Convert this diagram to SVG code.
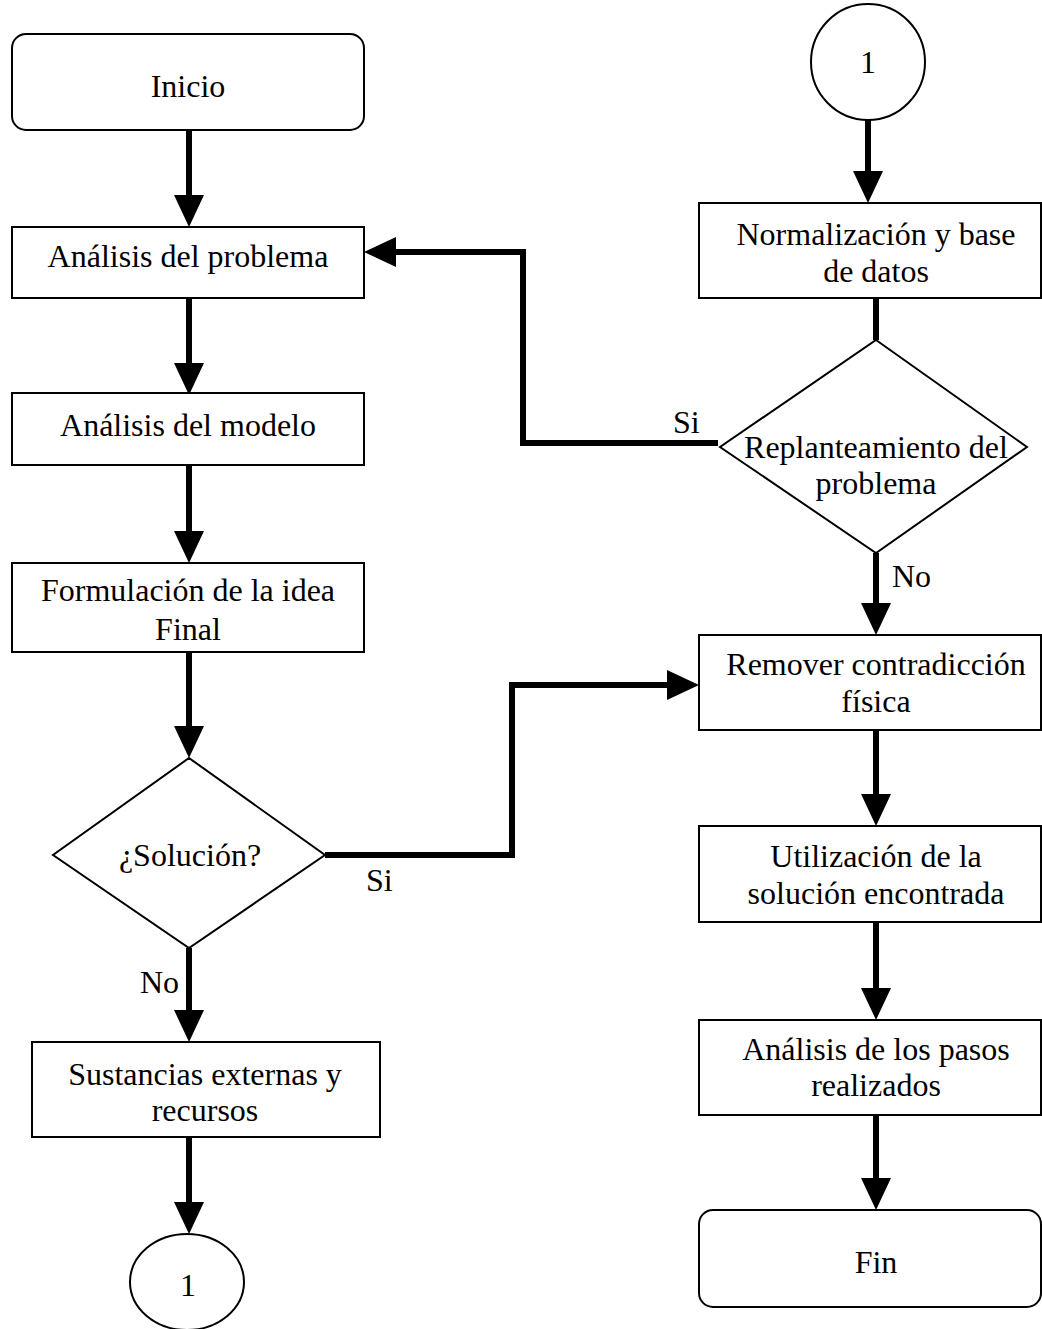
<svg xmlns="http://www.w3.org/2000/svg" width="1042" height="1329" viewBox="0 0 1042 1329">
<style>
.box{fill:#fff;stroke:#000;stroke-width:2}
.t{font-family:'Liberation Serif','Times New Roman','DejaVu Serif',serif;font-size:32px;fill:#000;text-anchor:middle}
.lbl{font-family:'Liberation Serif','Times New Roman','DejaVu Serif',serif;font-size:32px;fill:#000}
.c{fill:none;stroke:#000;stroke-width:6}
</style>
<defs>
<marker id="ah" markerUnits="userSpaceOnUse" markerWidth="32" markerHeight="30" refX="0" refY="15" orient="auto" viewBox="0 0 32 30">
<path d="M0,0 L32,15 L0,30 Z" fill="#000"/>
</marker>
</defs>
<rect width="1042" height="1329" fill="#fff"/>
<g id="connectors">
<path class="c" d="M189,130 V195" marker-end="url(#ah)"/>
<path class="c" d="M189,298 V363" marker-end="url(#ah)"/>
<path class="c" d="M189,465 V531" marker-end="url(#ah)"/>
<path class="c" d="M189,652 V726" marker-end="url(#ah)"/>
<path class="c" d="M189,948 V1010" marker-end="url(#ah)"/>
<path class="c" d="M189,1137 V1202" marker-end="url(#ah)"/>
<path class="c" d="M868,120 V171" marker-end="url(#ah)"/>
<path class="c" d="M876,298 V340"/>
<path class="c" d="M718,443 H523 V252 H396" marker-end="url(#ah)"/>
<path class="c" d="M876,553 V603" marker-end="url(#ah)"/>
<path class="c" d="M325,855 H512 V685 H667" marker-end="url(#ah)"/>
<path class="c" d="M876,730 V794" marker-end="url(#ah)"/>
<path class="c" d="M876,922 V988" marker-end="url(#ah)"/>
<path class="c" d="M876,1115 V1178" marker-end="url(#ah)"/>
<text class="lbl" x="673" y="433">Si</text>
<text class="lbl" x="892" y="587">No</text>
<text class="lbl" x="366" y="891">Si</text>
<text class="lbl" x="140" y="993">No</text>
</g>
<g id="inicio"><rect class="box" x="12" y="34" width="352" height="96" rx="14"/><text class="t" x="188" y="97">Inicio</text></g>
<g id="analisis-problema"><rect class="box" x="12" y="227" width="352" height="71"/><text class="t" x="188" y="267">Análisis del problema</text></g>
<g id="analisis-modelo"><rect class="box" x="12" y="393" width="352" height="72"/><text class="t" x="188" y="436">Análisis del modelo</text></g>
<g id="formulacion"><rect class="box" x="12" y="563" width="352" height="89"/><text class="t" x="188" y="601">Formulación de la idea</text><text class="t" x="188" y="640">Final</text></g>
<g id="solucion"><polygon class="box" points="189,758 325,855 189,948 53,855"/><text class="t" x="190" y="866">¿Solución?</text></g>
<g id="sustancias"><rect class="box" x="32" y="1042" width="348" height="95"/><text class="t" x="205" y="1085">Sustancias externas y</text><text class="t" x="205" y="1121">recursos</text></g>
<g id="conector-1-fin"><ellipse class="box" cx="187" cy="1282" rx="57" ry="48"/><text class="t" x="188" y="1296">1</text></g>
<g id="conector-1-inicio"><ellipse class="box" cx="868" cy="62" rx="57" ry="58"/><text class="t" x="868" y="73">1</text></g>
<g id="normalizacion"><rect class="box" x="699" y="203" width="342" height="95"/><text class="t" x="876" y="245">Normalización y base</text><text class="t" x="876" y="282">de datos</text></g>
<g id="replanteamiento"><polygon class="box" points="876,340 1027,447 876,553 720,447"/><text class="t" x="876" y="458">Replanteamiento del</text><text class="t" x="876" y="494">problema</text></g>
<g id="remover"><rect class="box" x="699" y="635" width="342" height="95"/><text class="t" x="876" y="675">Remover contradicción</text><text class="t" x="876" y="712">física</text></g>
<g id="utilizacion"><rect class="box" x="699" y="826" width="342" height="96"/><text class="t" x="876" y="867">Utilización de la</text><text class="t" x="876" y="904">solución encontrada</text></g>
<g id="analisis-pasos"><rect class="box" x="699" y="1020" width="342" height="95"/><text class="t" x="876" y="1060">Análisis de los pasos</text><text class="t" x="876" y="1096">realizados</text></g>
<g id="fin"><rect class="box" x="699" y="1210" width="342" height="97" rx="14"/><text class="t" x="876" y="1273">Fin</text></g>
</svg>
